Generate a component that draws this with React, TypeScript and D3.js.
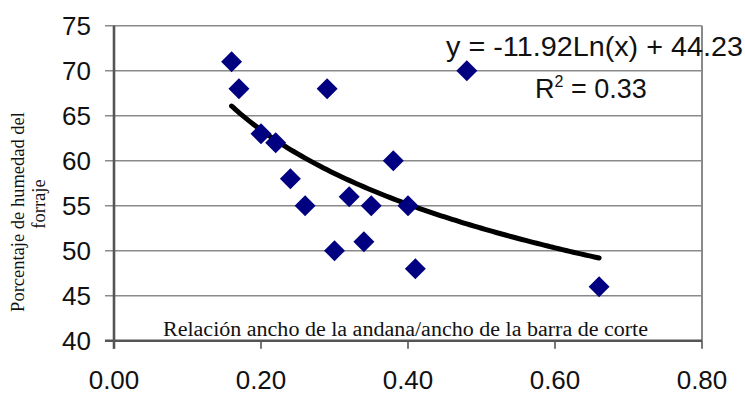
import React from "react";
import * as d3 from "d3";

// Observed pairs: swath width / cutter bar width ratio vs. forage moisture (%)
const ratios = [0.16, 0.17, 0.2, 0.22, 0.24, 0.26, 0.29, 0.3, 0.32, 0.34, 0.35, 0.38, 0.4, 0.41, 0.48, 0.66];
const moisture = [71, 68, 63, 62, 58, 55, 68, 50, 56, 51, 55, 60, 55, 48, 70, 46];

const xTicks = [0, 0.2, 0.4, 0.6, 0.8];
const yTicks = [40, 45, 50, 55, 60, 65, 70, 75];

// Logarithmic fit y = a·ln(x) + b
const fitA = -11.92;
const fitB = 44.23;
const fitR2 = 0.33;
const fitRange = [0.16, 0.66];

const W = 745;
const H = 395;

// fixed two-decimal format with an ASCII hyphen for negatives
const fmt2 = (v: number) => v.toFixed(2);

export default function App() {
  const x = d3.scaleLinear().domain([0, 0.8]).range([114, 702]);
  const y = d3.scaleLinear().domain([40, 75]).range([340.7, 25.7]);

  const fitPts = d3.range(0, 101).map((i) => {
    const xv = fitRange[0] + ((fitRange[1] - fitRange[0]) * i) / 100;
    return [xv, fitA * Math.log(xv) + fitB] as [number, number];
  });
  const fitLine = d3
    .line<[number, number]>()
    .x((d) => x(d[0]))
    .y((d) => y(d[1]))
    .curve(d3.curveMonotoneX);

  const diamond = d3.symbol().type(d3.symbolSquare).size(220)();

  const tickFont = "Liberation Sans, Arial, sans-serif";
  const serif = "Liberation Serif, Times New Roman, serif";

  return (
    <svg
      width={W}
      height={H}
      style={{ position: "absolute", left: 0, top: 0, background: "#fff" }}
    >
      {/* horizontal gridlines with outward ticks */}
      {yTicks.map((t) => (
        <line
          key={"g" + t}
          x1={105}
          x2={x(0.8)}
          y1={y(t)}
          y2={y(t)}
          stroke="#8a8a8a"
          strokeWidth={1.6}
        />
      ))}
      {/* right border */}
      <line x1={x(0.8)} x2={x(0.8)} y1={y(75)} y2={y(40)} stroke="#8a8a8a" strokeWidth={2} />
      {/* x ticks */}
      {xTicks.map((t) => (
        <line key={"xt" + t} x1={x(t)} x2={x(t)} y1={y(40)} y2={y(40) + 8} stroke="#555" strokeWidth={1.6} />
      ))}
      {/* axes */}
      <line x1={x(0)} x2={x(0)} y1={y(75)} y2={y(40) + 8} stroke="#555" strokeWidth={2.6} />
      <line x1={105} x2={x(0.8)} y1={y(40)} y2={y(40)} stroke="#555" strokeWidth={2.6} />

      {/* y tick labels */}
      {yTicks.map((t) => (
        <text
          key={"yl" + t}
          x={91}
          y={y(t)}
          dy="0.36em"
          textAnchor="end"
          fontFamily={tickFont}
          fontSize={26}
          fill="#111"
        >
          {t}
        </text>
      ))}
      {/* x tick labels */}
      {xTicks.map((t) => (
        <text
          key={"xl" + t}
          x={x(t)}
          y={389}
          textAnchor="middle"
          fontFamily={tickFont}
          fontSize={26}
          fill="#111"
        >
          {fmt2(t)}
        </text>
      ))}

      {/* x axis title */}
      <text
        x={163}
        y={336}
        fontFamily={serif}
        fontSize={20}
        textLength={485}
        lengthAdjust="spacingAndGlyphs"
        fill="#111"
      >
        Relación ancho de la andana/ancho de la barra de corte
      </text>

      {/* y axis title */}
      <text
        transform={`translate(24, 212) rotate(-90)`}
        textAnchor="middle"
        fontFamily={serif}
        fontSize={18.5}
        fill="#111"
      >
        Porcentaje de humedad del
      </text>
      <text
        transform={`translate(45, 204) rotate(-90)`}
        textAnchor="middle"
        fontFamily={serif}
        fontSize={18.5}
        fill="#111"
      >
        forraje
      </text>

      {/* fitted curve */}
      <path d={fitLine(fitPts) ?? ""} fill="none" stroke="#000" strokeWidth={5} strokeLinecap="round" />

      {/* data points */}
      {ratios.map((r, i) => (
        <path
          key={"p" + i}
          d={diamond ?? ""}
          transform={`translate(${x(r)}, ${y(moisture[i])}) rotate(45)`}
          fill="#000080"
        />
      ))}

      {/* fit equation */}
      <text
        x={446}
        y={56}
        fontFamily={tickFont}
        fontSize={27}
        textLength={297}
        lengthAdjust="spacingAndGlyphs"
        fill="#111"
      >
        {`y = ${fmt2(fitA)}Ln(x) + ${fmt2(fitB)}`}
      </text>
      <text x={535} y={98} fontFamily={tickFont} fontSize={27} fill="#111">
        R<tspan dy={-11} fontSize={16}>2</tspan>
        <tspan dy={11}>{` = ${fmt2(fitR2)}`}</tspan>
      </text>
    </svg>
  );
}
